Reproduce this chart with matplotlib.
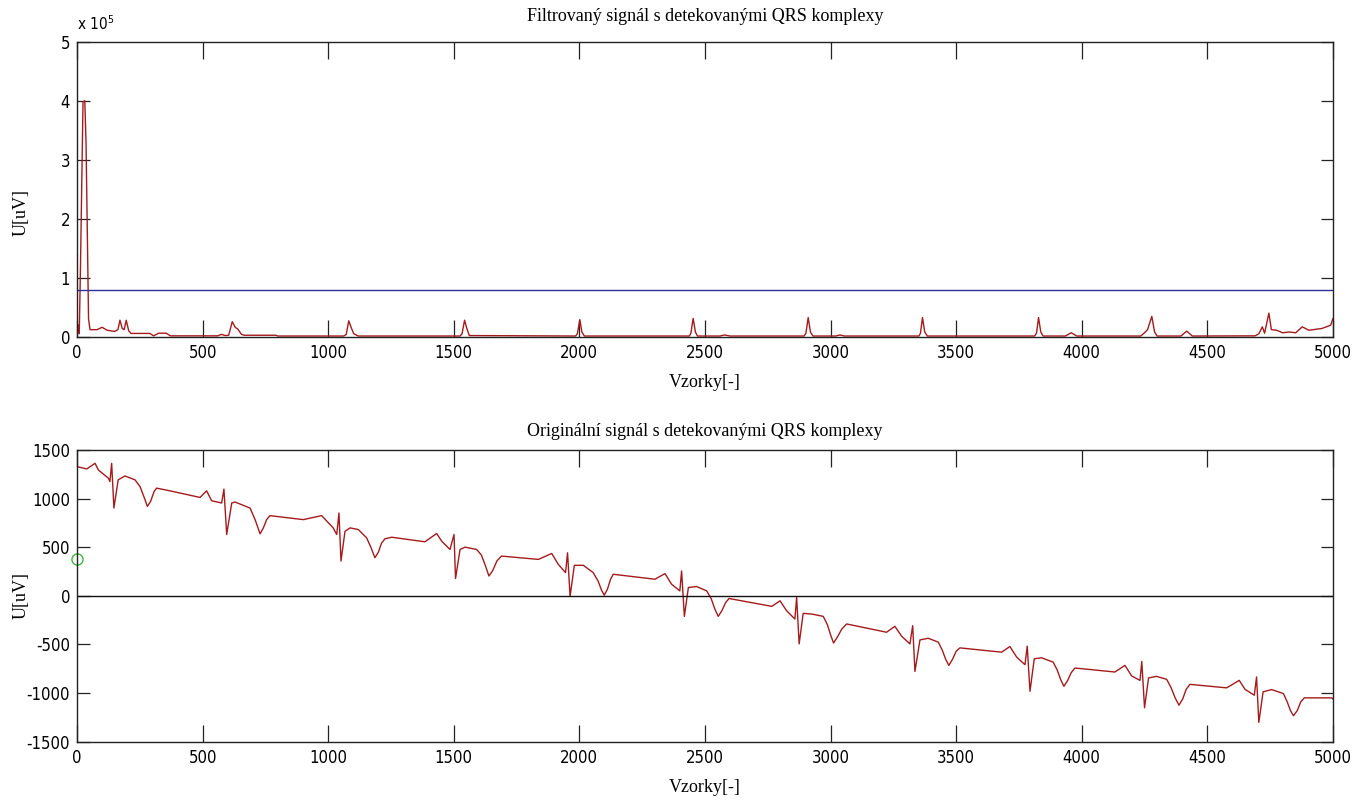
import matplotlib
matplotlib.use("Agg")
import matplotlib.pyplot as plt
from matplotlib.ticker import FuncFormatter, FixedLocator

# ---- data -------------------------------------------------------------
# filtered (squared / integrated) signal, sample index and value
filt_x = [0, 5, 9, 14, 19, 24, 31, 36, 41, 46, 52, 80, 100, 120, 150, 163,
          171, 180, 188, 196, 206, 215, 290, 305, 325, 355, 372, 560, 575,
          590, 604, 618, 630, 640, 655, 666, 700, 791, 800, 1062, 1072, 1082,
          1093, 1102, 1120, 1525, 1533, 1543, 1552, 1562, 1985, 1992, 2002,
          2010, 2020, 2438, 2444, 2453, 2462, 2470, 2560, 2578, 2600, 2895,
          2902, 2911, 2920, 2930, 3020, 3038, 3055, 3352, 3358, 3366, 3375,
          3385, 3812, 3820, 3828, 3837, 3846, 3935, 3958, 3980, 4235, 4248,
          4262, 4279, 4290, 4300, 4395, 4418, 4440, 4690, 4705, 4719, 4728,
          4745, 4755, 4776, 4800, 4826, 4852, 4878, 4904, 4956, 4991, 5000]
filt_v = [2000, 20000, 5000, 120000, 260000, 398000, 400000, 330000, 180000,
          30000, 12000, 12000, 16000, 11000, 9000, 12000, 28000, 14000, 12000,
          28000, 10000, 5600, 5600, 1500, 6000, 6000, 1500, 1500, 4000, 2000,
          2500, 25500, 16000, 13000, 4000, 2500, 2500, 2500, 1200, 1200, 4000,
          27000, 14000, 5000, 1200, 1200, 5000, 28000, 14000, 2000, 1200, 5000,
          29000, 8000, 1200, 1200, 6000, 31000, 8000, 1200, 1200, 3000, 1200,
          1200, 6000, 32500, 8000, 1200, 1200, 3000, 1200, 1200, 6000, 32500,
          8000, 1200, 1200, 6000, 32500, 8000, 1200, 1200, 6700, 1200, 1200,
          6000, 12000, 34500, 8000, 1200, 1200, 9500, 1200, 1500, 5000, 16800,
          6000, 40000, 12000, 11000, 6700, 8000, 6700, 16800, 11000, 14000,
          19500, 30700]
threshold = 80000

# original ECG signal [uV], one row per heartbeat
ecg_x = [0, 39, 72, 85, 125, 131, 138, 147, 164, 191, 231, 251, 271, 280,
         293, 307, 317, 370, 490, 516, 536, 576,
         585, 596, 616, 629, 689, 709, 729, 742, 755, 768, 901, 974, 1020, 1034,
         1043, 1051, 1067, 1087, 1120, 1153, 1170, 1186, 1200, 1212, 1226,
         1253, 1385, 1432, 1452, 1485,
         1501, 1507, 1525, 1545, 1591, 1610, 1626, 1640, 1655, 1672, 1690,
         1837, 1890, 1916, 1945,
         1953, 1963, 1980, 2016, 2055, 2075, 2088, 2099, 2112, 2124, 2135,
         2301, 2341, 2367, 2400,
         2407, 2418, 2434, 2467, 2507, 2525, 2540, 2553, 2568, 2582, 2596,
         2766, 2799, 2825, 2858,
         2865, 2875, 2891, 2925, 2971, 2988, 3000, 3012, 3028, 3045, 3064,
         3223, 3256, 3283, 3316,
         3327, 3336, 3356, 3389, 3429, 3445, 3458, 3471, 3486, 3500, 3515,
         3681, 3714, 3741, 3774,
         3783, 3794, 3811, 3840, 3886, 3902, 3916, 3929, 3944, 3958, 3973,
         4132, 4172, 4199, 4232,
         4239, 4250, 4266, 4298, 4338, 4355, 4372, 4387, 4402, 4416, 4431,
         4577, 4627, 4650, 4687,
         4696, 4705, 4722, 4756, 4803, 4818, 4831, 4843, 4858, 4872, 4886,
         4995, 5000]
ecg_v = [1329, 1305, 1363, 1295, 1210, 1175, 1363, 903, 1193, 1233, 1193,
         1124, 988, 920, 971, 1073, 1108, 1080, 1012, 1080, 978, 955,
         1098, 631, 955, 965, 903, 784, 638, 699, 784, 825, 784, 825, 699, 631,
         852, 358, 664, 699, 682, 597, 500, 392, 450, 540, 587,
         603, 556, 641, 562, 477,
         631, 178, 477, 501, 477, 420, 310, 204, 260, 360, 409,
         375, 436, 324, 239,
         443, -6, 314, 314, 239, 150, 60, 7, 70, 170, 222,
         171, 229, 120, 51,
         256, -211, 86, 96, 51, -30, -140, -211, -150, -70, -27,
         -108, -51, -153, -238,
         -16, -494, -180, -187, -211, -300, -400, -485, -420, -340, -289,
         -374, -313, -415, -494,
         -307, -777, -453, -436, -476, -560, -650, -715, -650, -570, -535,
         -579, -521, -630, -708,
         -517, -981, -647, -637, -681, -760, -860, -930, -870, -790, -742,
         -783, -715, -824, -869,
         -675, -1151, -844, -828, -858, -940, -1050, -1124, -1060, -960, -910,
         -946, -869, -961, -1022,
         -834, -1301, -987, -964, -1005, -1090, -1180, -1233, -1180, -1090,
         -1049, -1049, -1060]
marker_x = [0]
marker_v = [375]

x_ticks = [0, 500, 1000, 1500, 2000, 2500, 3000, 3500, 4000, 4500, 5000]
top_y_ticks = [0, 100000, 200000, 300000, 400000, 500000]
bottom_y_ticks = [-1500, -1000, -500, 0, 500, 1000, 1500]

titles = ["Filtrovaný signál s detekovanými QRS komplexy",
          "Originální signál s detekovanými QRS komplexy"]
x_label = "Vzorky[-]"
y_label = "U[uV]"

# ---- styling ----------------------------------------------------------
plt.rcParams["font.family"] = ["DejaVu Sans"]
plt.rcParams["font.stretch"] = "condensed"
serif = ["Liberation Serif", "DejaVu Serif"]
trace_color = "#a51a1c"
frame_color = "#222222"

fig = plt.figure(figsize=(13.65, 8.05), dpi=100)
ax1 = fig.add_axes([0.0564, 0.5817, 0.9201, 0.3665])
ax2 = fig.add_axes([0.0564, 0.0786, 0.9201, 0.3624])


def style_axes(ax, ylabel_pos):
    for sp in ax.spines.values():
        sp.set_linewidth(1.0)
        sp.set_color(frame_color)
    ax.tick_params(axis="both", direction="in", top=True, right=True,
                   labelsize=12, width=0.9, color=frame_color, pad=5)
    ax.tick_params(axis="x", length=12)
    ax.tick_params(axis="y", length=9)
    ax.set_xlim(0, 5000)
    ax.xaxis.set_major_locator(FixedLocator(x_ticks))
    ax.xaxis.set_major_formatter(FuncFormatter(lambda v, p: f"{v:.0f}"))
    ax.set_xlabel(x_label, family=serif, fontsize=13, labelpad=9)
    ax.set_ylabel(y_label, family=serif, fontsize=13)
    ax.yaxis.set_label_coords(-0.038, ylabel_pos)


# top panel: filtered signal with detection threshold
ax1.plot(filt_x, filt_v, color=trace_color, lw=1.0)
ax1.plot([0, 5000], [threshold, threshold], color="#30309a", lw=1.0)
ax1.set_ylim(0, 500000)
ax1.yaxis.set_major_locator(FixedLocator(top_y_ticks))
ax1.yaxis.set_major_formatter(FuncFormatter(lambda v, p: f"{v / 1e5:.0f}"))
style_axes(ax1, 0.42)
ax1.set_title(titles[0], family=serif, fontsize=13, pad=15)
ax1.text(0.0, 1.03, r"x 10$^5$", transform=ax1.transAxes, fontsize=11,
         ha="left", va="bottom")

# bottom panel: original signal
ax2.plot(ecg_x, ecg_v, color=trace_color, lw=1.0)
ax2.plot([0, 5000], [0, 0], color="#111111", lw=1.0)
ax2.plot(marker_x, marker_v, "o", mfc="none", mec="#3cb83c", ms=8,
         mew=1.0, clip_on=False)
ax2.set_ylim(-1500, 1500)
ax2.yaxis.set_major_locator(FixedLocator(bottom_y_ticks))
ax2.yaxis.set_major_formatter(FuncFormatter(lambda v, p: f"{v:.0f}"))
style_axes(ax2, 0.5)
ax2.set_title(titles[1], family=serif, fontsize=13, pad=10)

fig.savefig("out.png", dpi=100)
